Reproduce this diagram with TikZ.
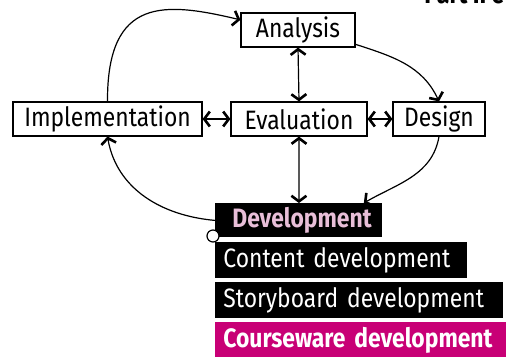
\documentclass[tikz,border=0pt]{standalone}
\usepackage{fontspec}
\setmainfont{Fira Sans}[FakeStretch=0.86]
\usepackage{xcolor}
\usetikzlibrary{arrows.meta,positioning}
\definecolor{cware}{RGB}{200,0,118}
\definecolor{devpink}{RGB}{232,190,216}
\tikzset{
  ph/.style={draw,line width=0.6pt,inner sep=0pt,minimum height=17pt,font=\fontsize{13.3}{15}\selectfont},
  tk/.style={fill=black,text=white,inner xsep=4pt,inner ysep=0pt,minimum height=18pt,anchor=north west,font=\fontsize{13.3}{15}\selectfont},
  tip/.tip={Straight Barb[length=2.8pt,width=7.5pt,line width=1.3pt]},
  lk/.style={line width=0.6pt,-tip},
  bi/.style={line width=0.6pt,tip-tip}
}
\begin{document}
\begin{tikzpicture}[x=0.5pt,y=-0.5pt]
\useasboundingbox (0,0) rectangle (506,358);
\clip (0,0) rectangle (506,358);
\node[anchor=base west,inner sep=0pt,font=\bfseries\fontsize{13.3}{15}\selectfont] (part) at (424,4) {Part II e};
\node[ph,minimum width=57pt] (analysis) at (298,30) {Analysis};
\node[ph,minimum width=94.5pt] (impl) at (107.5,119) {Implementation};
\node[ph,minimum width=68pt] (eval) at (299,119) {Evaluation};
\node[ph,minimum width=46pt] (design) at (439,119) {Design};
\node[tk,minimum width=83.5pt,minimum height=17pt,inner xsep=8.5pt,text=devpink,font=\bfseries\fontsize{13.3}{15}\selectfont,text width=66.5pt] (dev) at (215,203) {Development};
\node[tk,minimum width=126pt,text width=118pt] (content) at (215,242) {Content development};
\node[tk,minimum width=144pt,text width=136pt] (story) at (215,282) {Storyboard development};
\node[tk,fill=cware,minimum width=145.5pt,minimum height=17.5pt,text width=137.5pt,font=\bfseries\fontsize{13.3}{15}\selectfont] (cware) at (215,322) {Courseware development};
\node[circle,draw,line width=0.6pt,fill=white,minimum size=6pt,inner sep=0pt] (dot) at (213,236) {};
\draw[lk] (impl.north) .. controls (107,-4) and (165,2) .. (analysis.170);
\draw[lk] (analysis.-14) to[out=-18,in=115] (design.north);
\draw[bi] (analysis.south) -- (eval.north);
\draw[bi] (impl.east) -- (eval.west);
\draw[bi] (eval.east) -- (design.west);
\draw[bi] (eval.south) -- (dev.north);
\draw[lk] (design.south) to[out=-100,in=30] (dev.15);
\draw[lk] (dev.west) to[out=175,in=-80] (impl.south);
\end{tikzpicture}
\end{document}
